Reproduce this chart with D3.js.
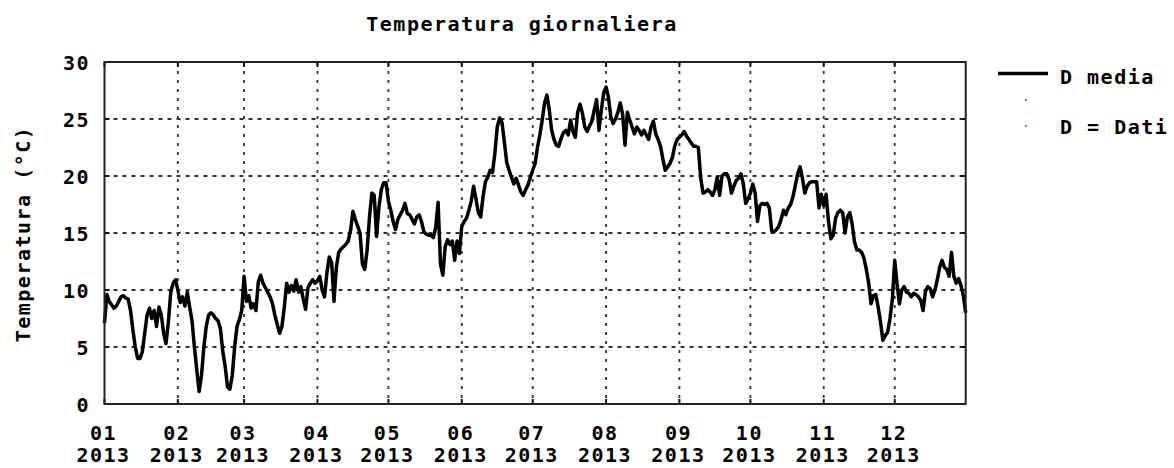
<!DOCTYPE html>
<html>
<head>
<meta charset="utf-8">
<script src="https://cdn.jsdelivr.net/npm/d3@7/dist/d3.min.js"></script>
<style>
  body { margin: 0; background: #fff; }
  svg { display: block; background: #fff; }
  text { font-family: "DejaVu Sans Mono", monospace; font-weight: bold; font-size: 20px; letter-spacing: 1.5px; fill: #000; }
</style>
</head>
<body>
<svg id="chart" width="1174" height="468"></svg>
<script>
const title = "Temperatura giornaliera";
const yLabel = "Temperatura (°C)";
const year = 2013;
const yTicks = [0, 5, 10, 15, 20, 25, 30];
const legendLabels = ["D media", "D = Dati"];

// daily mean temperature, one array per month
const gen = [7.1, 9.6, 9.0, 8.7, 8.4, 8.6, 9.0, 9.4, 9.5, 9.3, 9.2, 8.2, 6.5, 5.0, 4.0, 4.0,
  4.6, 6.2, 7.8, 8.4, 7.5, 8.2, 6.8, 8.5, 7.8, 6.2, 5.3, 7.2, 9.8, 10.6, 10.9];
const feb = [10.0, 8.9, 9.4, 8.6, 9.8, 8.5, 7.3, 5.0, 3.0, 1.1, 2.5, 5.0, 6.8, 7.8, 8.0, 7.8,
  7.5, 7.3, 6.6, 4.6, 3.3, 1.5, 1.3, 2.5, 5.0, 6.8, 7.4, 8.2];
const mar = [11.2, 9.0, 9.5, 8.4, 8.8, 8.2, 10.7, 11.3, 10.6, 10.2, 9.8, 9.4, 8.8, 7.8, 7.0, 6.2,
  6.8, 8.5, 10.6, 9.8, 10.4, 9.9, 10.9, 9.8, 10.3, 9.2, 8.3, 10.2, 10.6, 10.9, 10.6];
const apr = [10.8, 11.2, 10.0, 9.4, 11.5, 12.9, 12.4, 9.0, 12.0, 13.3, 13.6, 13.8, 14.0, 14.3, 15.2,
  16.9, 16.2, 15.6, 15.0, 12.3, 11.8, 13.5, 16.4, 18.5, 18.3, 14.7, 17.3, 18.8, 19.4, 19.4];
const mag = [17.8, 17.0, 16.0, 15.3, 16.2, 16.6, 17.0, 17.6, 16.7, 16.6, 16.2, 15.8, 16.4, 16.6, 16.0,
  15.1, 14.9, 14.8, 14.8, 14.6, 15.5, 17.7, 12.3, 11.3, 13.8, 14.4, 14.0, 14.3, 12.6, 14.3, 13.2];
const giu = [15.6, 16.0, 16.3, 17.0, 17.8, 19.1, 18.0, 16.8, 16.4, 18.2, 19.5, 19.9, 20.5, 20.3, 22.0,
  24.3, 25.1, 24.7, 23.0, 21.2, 20.5, 19.9, 19.3, 19.8, 19.2, 18.6, 18.3, 18.8, 19.2, 19.9];
const lug = [20.5, 21.1, 22.5, 23.6, 24.9, 26.4, 27.1, 25.8, 24.0, 23.2, 22.7, 22.6, 23.3, 23.8, 24.0,
  23.6, 24.9, 23.9, 23.4, 25.6, 26.3, 25.5, 24.3, 23.9, 24.4, 24.8, 25.8, 26.7, 24.0, 25.8, 27.3];
const ago = [27.8, 26.9, 25.2, 24.6, 25.0, 25.6, 26.4, 25.4, 22.7, 25.6, 24.9, 24.3, 23.7, 24.3, 24.0,
  23.6, 24.0, 23.6, 23.2, 24.3, 24.8, 23.7, 23.2, 22.6, 21.5, 20.5, 20.8, 21.1, 21.6, 22.6, 23.2];
const set = [23.4, 23.6, 23.9, 23.5, 23.2, 22.9, 22.6, 22.6, 22.5, 19.8, 18.5, 18.6, 18.8, 18.6, 18.3,
  18.8, 19.9, 18.3, 20.0, 20.2, 20.2, 19.7, 18.5, 19.1, 19.6, 19.8, 20.2, 19.3, 17.6, 18.0];
const ott = [18.5, 19.3, 18.5, 16.0, 17.4, 17.6, 17.5, 17.6, 17.2, 15.2, 15.1, 15.3, 15.6, 16.2, 17.0,
  16.6, 17.2, 17.5, 18.2, 19.2, 20.2, 20.8, 19.8, 18.5, 19.1, 19.4, 19.5, 19.5, 19.5, 17.2, 18.4];
const nov = [17.4, 18.4, 16.0, 14.5, 14.8, 16.3, 16.8, 17.0, 16.8, 15.0, 16.4, 16.8, 15.8, 14.2, 13.5,
  13.5, 13.3, 12.8, 11.8, 10.6, 8.8, 9.5, 9.6, 8.5, 7.2, 5.6, 6.0, 6.3, 7.5, 9.2];
const dic = [12.6, 10.5, 8.8, 10.0, 10.3, 9.8, 9.7, 9.4, 9.7, 9.6, 9.4, 9.1, 8.2, 9.9, 10.3, 10.1,
  9.4, 10.0, 10.9, 12.0, 12.6, 12.0, 11.8, 11.2, 13.3, 11.2, 10.6, 11.0, 10.4, 9.5, 8.0];

const tMedia = [].concat(gen, feb, mar, apr, mag, giu, lug, ago, set, ott, nov, dic);
const start = new Date(year, 0, 1);
const data = tMedia.map((v, i) => ({ date: d3.timeDay.offset(start, i), value: v }));

const svg = d3.select("#chart");
const plot = { left: 104.5, right: 965.7, top: 62, bottom: 404 };

const x = d3.scaleTime()
  .domain([start, new Date(year, 11, 31)])
  .range([plot.left, plot.right]);
const y = d3.scaleLinear()
  .domain([0, 30])
  .range([plot.bottom, plot.top]);

const months = d3.timeMonth.range(start, new Date(year + 1, 0, 1));

// grid
const grid = svg.append("g").attr("stroke", "#333").attr("stroke-width", 1.8);
grid.selectAll(".vgrid")
  .data(months.slice(1))
  .join("line")
  .attr("x1", d => x(d)).attr("x2", d => x(d))
  .attr("y1", plot.top).attr("y2", plot.bottom)
  .attr("stroke-dasharray", "3,6");
grid.selectAll(".hgrid")
  .data(yTicks.slice(1, -1))
  .join("line")
  .attr("x1", plot.left).attr("x2", plot.right)
  .attr("y1", d => y(d)).attr("y2", d => y(d))
  .attr("stroke-dasharray", "4,5");

// inner ticks on all sides
const ticks = svg.append("g").attr("stroke", "#111").attr("stroke-width", 2);
months.forEach(m => {
  ticks.append("line").attr("x1", x(m)).attr("x2", x(m)).attr("y1", plot.top).attr("y2", plot.top + 5);
  ticks.append("line").attr("x1", x(m)).attr("x2", x(m)).attr("y1", plot.bottom).attr("y2", plot.bottom - 5);
});
yTicks.forEach(t => {
  ticks.append("line").attr("x1", plot.left).attr("x2", plot.left + 5).attr("y1", y(t)).attr("y2", y(t));
  ticks.append("line").attr("x1", plot.right).attr("x2", plot.right - 5).attr("y1", y(t)).attr("y2", y(t));
});

// line
const line = d3.line()
  .x(d => x(d.date))
  .y(d => y(d.value));
svg.append("path")
  .datum(data)
  .attr("fill", "none")
  .attr("stroke", "#000")
  .attr("stroke-width", 3.5)
  .attr("stroke-linejoin", "round")
  .attr("d", line);

// frame
svg.append("rect")
  .attr("x", plot.left).attr("y", plot.top)
  .attr("width", plot.right - plot.left).attr("height", plot.bottom - plot.top)
  .attr("fill", "none").attr("stroke", "#222").attr("stroke-width", 2);

// y tick labels
svg.selectAll(".ylab")
  .data(yTicks)
  .join("text")
  .attr("x", 90)
  .attr("y", d => y(d) + 8)
  .attr("text-anchor", "end")
  .text(d => d);

// x tick labels, month + year
const xl = svg.selectAll(".xlab")
  .data(months)
  .join("text")
  .attr("text-anchor", "middle");
xl.append("tspan").attr("x", d => x(d) - 1).attr("y", 440).text(d3.timeFormat("%m"));
xl.append("tspan").attr("x", d => x(d) - 1).attr("y", 462).text(d3.timeFormat("%Y"));

// title and axis label
svg.append("text")
  .attr("x", 522).attr("y", 31)
  .attr("text-anchor", "middle")
  .text(title);
svg.append("text")
  .attr("transform", "translate(30,234) rotate(-90)")
  .attr("text-anchor", "middle")
  .text(yLabel);

// legend
svg.append("line")
  .attr("x1", 998).attr("x2", 1048).attr("y1", 73.5).attr("y2", 73.5)
  .attr("stroke", "#000").attr("stroke-width", 3.5);
svg.append("text").attr("x", 1060).attr("y", 84).text(legendLabels[0]);
svg.append("rect").attr("x", 1025).attr("y", 99).attr("width", 2).attr("height", 2).attr("fill", "#22cc22");
svg.append("rect").attr("x", 1025).attr("y", 125).attr("width", 2).attr("height", 2).attr("fill", "#3399ff");
svg.append("text").attr("x", 1060).attr("y", 134).text(legendLabels[1]);
</script>
</body>
</html>
